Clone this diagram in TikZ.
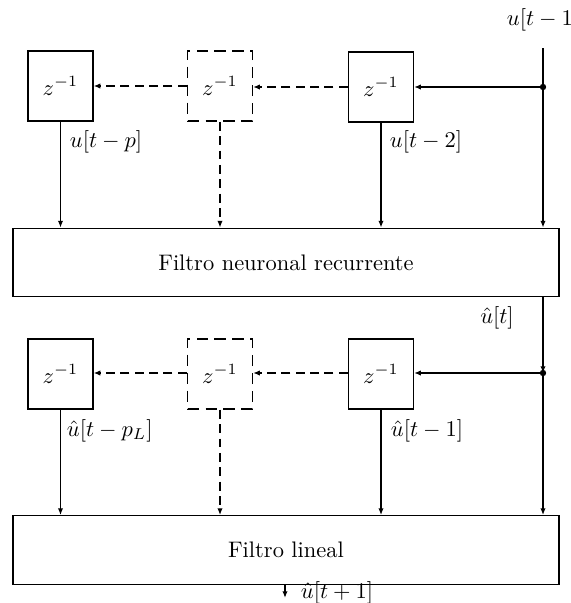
\documentclass[tikz,border=0pt]{standalone}
\usetikzlibrary{arrows.meta}
\begin{document}
\begin{tikzpicture}[x=0.445pt,y=-0.445pt,line width=0.6pt,
  >={Latex[length=3pt,width=2.4pt]},
  delay/.style={draw, minimum width=28.9pt, minimum height=31.2pt, inner sep=0pt},
  ddelay/.style={delay, dash pattern=on 5pt off 3pt},
  filt/.style={draw, minimum width=243pt, minimum height=30.5pt, inner sep=0pt},
  dsh/.style={dash pattern=on 4pt off 2.4pt},
  lbl/.style={inner sep=1pt}]
\useasboundingbox (0,0) rectangle (571,603);
% row 1
\node[delay]  (b11) at (60.5,86) {$z^{-1}$};
\node[ddelay] (b12) at (220,86) {$z^{-1}$};
\node[delay]  (b13) at (381,87) {$z^{-1}$};
\node[filt]   (f1)  at (286,262.5) {Filtro neuronal recurrente};
\coordinate (in) at (543,48);
\coordinate (j1) at (543,87);
\node[lbl] (lin) at (543,20) {$u[t-1]$};
\draw (in) -- (j1);
\draw[->] (j1) -- (j1 |- f1.north);
\fill (j1) circle (3.2);
\draw[->] (j1) -- (b13.east);
\draw[->,dsh] (b13.west) -- (b13.west -| b12.east);
\draw[->,dsh] (b12.west) -- (b12.west -| b11.east);
\draw[->] (b11.south) -- (b11.south |- f1.north);
\draw[->,dsh] (b12.south) -- (b12.south |- f1.north);
\draw[->] (b13.south) -- (b13.south |- f1.north);
\node[lbl,anchor=west] (l11) at (67,142) {$u[t-p]$};
\node[lbl,anchor=west] (l13) at (387,142) {$u[t-2]$};
% row 2
\node[delay]  (b21) at (60.5,374) {$z^{-1}$};
\node[ddelay] (b22) at (220,374) {$z^{-1}$};
\node[delay]  (b23) at (381,374) {$z^{-1}$};
\node[filt]   (f2)  at (286,550) {Filtro lineal};
\coordinate (j2) at (543,373);
\draw[->] (f1.south -| j2) -- (j2);
\node[lbl] (lut) at (497,318) {$\hat{u}[t]$};
\draw[->] (j2) -- (j2 |- f2.north);
\fill (j2) circle (3.2);
\draw[->] (j2) -- (j2 -| b23.east);
\draw[->,dsh] (b23.west |- j2) -- (j2 -| b22.east);
\draw[->,dsh] (b22.west |- j2) -- (j2 -| b21.east);
\draw[->] (b21.south) -- (b21.south |- f2.north);
\draw[->,dsh] (b22.south) -- (b22.south |- f2.north);
\draw[->] (b23.south) -- (b23.south |- f2.north);
\node[lbl,anchor=west] (l21) at (64,431) {$\hat{u}[t-p_L]$};
\node[lbl,anchor=west] (l23) at (388,431) {$\hat{u}[t-1]$};
% output
\coordinate (out) at (285,598);
\draw[->] (f2.south -| out) -- (out);
\node[lbl,anchor=west] (lout) at (298,593) {$\hat{u}[t+1]$};
\end{tikzpicture}
\end{document}
